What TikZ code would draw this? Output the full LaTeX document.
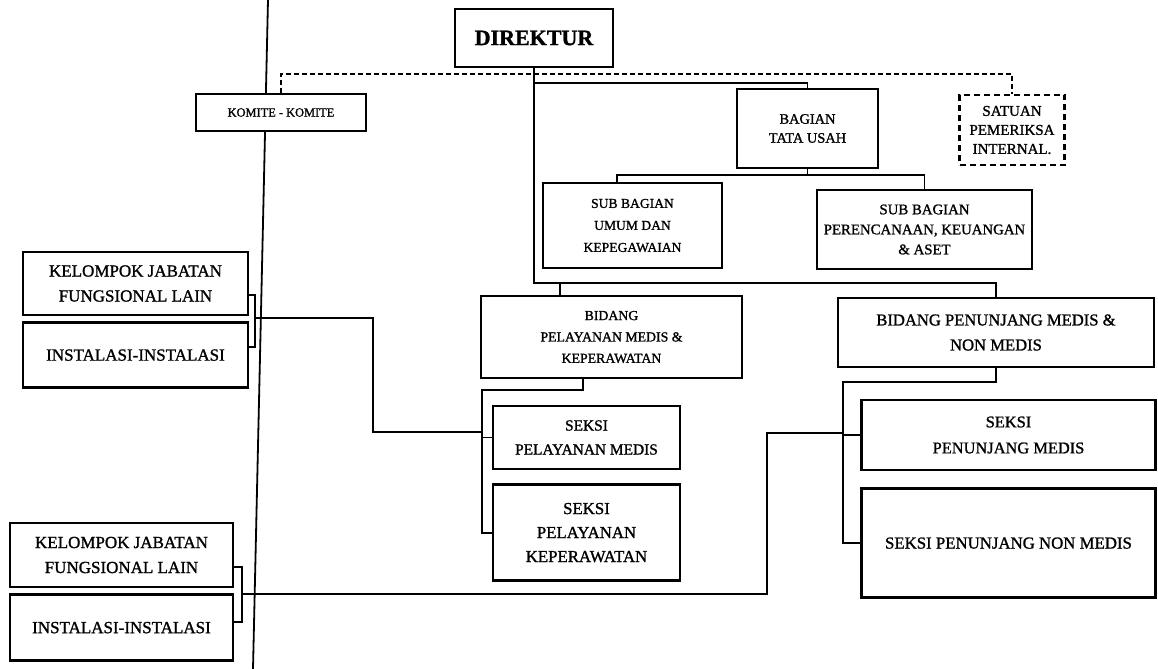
\documentclass[tikz,border=0pt]{standalone}
\usepackage{fontspec}
\setmainfont{Liberation Serif}[FakeBold=1.2]
\usetikzlibrary{positioning}
\tikzstyle{block} = [draw, fill=white, rectangle, line width=1.3pt,
    align=center, inner sep=1pt]
\tikzstyle{dblock} = [block, dash pattern=on 3pt off 2pt]
\tikzstyle{link} = [line width=0.9pt]
\tikzstyle{dlink} = [line width=1.1pt, dash pattern=on 2.5pt off 1.5pt]
\newcommand{\fsz}[2]{\fontsize{#1}{#2}\selectfont}

\begin{document}
\begin{tikzpicture}[x=0.5pt, y=-0.5pt]
    \useasboundingbox (0,0) rectangle (1158,669);
    % margin line of the page
    \draw [link] (268,0) -- (253,669);

    % top
    \node [block, minimum width=79pt, minimum height=29pt, font=\fsz{11}{13}\bfseries] (dir) at (534,38) {DIREKTUR};
    \node [block, minimum width=85pt, minimum height=18.5pt, font=\fsz{6.2}{7}] (komite) at (281,112.5) {KOMITE - KOMITE};
    \node [dblock, minimum width=52.5pt, minimum height=35pt, font=\fsz{7.5}{9.5}] (satuan) at (1012,130) {SATUAN\\PEMERIKSA\\INTERNAL.};
    \node [block, minimum width=70.5pt, minimum height=39.5pt, font=\fsz{7.2}{9.5}] (tu) at (807.5,128.5) {BAGIAN\\TATA USAH};
    \node [block, minimum width=89.5pt, minimum height=42.5pt, font=\fsz{6.8}{11}] (subum) at (632.5,225.5) {SUB BAGIAN\\UMUM DAN\\KEPEGAWAIAN};
    \node [block, minimum width=107.5pt, minimum height=39.5pt, font=\fsz{7.4}{10}] (subpk) at (924.5,229.5) {SUB BAGIAN\\PERENCANAAN, KEUANGAN\\\& ASET};

    % bidang and seksi
    \node [block, minimum width=130.5pt, minimum height=41pt, font=\fsz{6.9}{10.7}] (bpm) at (611.5,337) {BIDANG\\PELAYANAN MEDIS \&\\KEPERAWATAN};
    \node [block, minimum width=158pt, minimum height=34.5pt, font=\fsz{8.3}{12.5}] (bpn) at (996,332.5) {BIDANG PENUNJANG MEDIS \&\\NON MEDIS};
    \node [block, minimum width=93.5pt, minimum height=31.5pt, font=\fsz{7.7}{12}] (spm) at (586.5,437.5) {SEKSI\\PELAYANAN MEDIS};
    \node [block, minimum width=93.5pt, minimum height=48pt, font=\fsz{8.4}{12}, below=6.5pt of spm] (spk) {SEKSI\\PELAYANAN\\KEPERAWATAN};
    \node [block, minimum width=147pt, minimum height=35pt, font=\fsz{8.2}{13}] (spnm) at (1008.5,435) {SEKSI\\PENUNJANG MEDIS};
    \node [block, minimum width=147pt, minimum height=54.5pt, font=\fsz{8.4}{12}, below=8pt of spnm] (spnn) {SEKSI PENUNJANG NON MEDIS};

    % left groups
    \node [block, minimum width=112.5pt, minimum height=31.5pt, font=\fsz{8.5}{12.5}] (kj1) at (135.5,283.5) {KELOMPOK JABATAN\\FUNGSIONAL LAIN};
    \node [block, minimum width=112.5pt, minimum height=32.5pt, font=\fsz{8.5}{12.5}, below=2.5pt of kj1] (ins1) {INSTALASI-INSTALASI};
    \node [block, minimum width=111.5pt, minimum height=32pt, font=\fsz{8.5}{12.5}] (kj2) at (121.5,555) {KELOMPOK JABATAN\\FUNGSIONAL LAIN};
    \node [block, minimum width=111.5pt, minimum height=33pt, font=\fsz{8.5}{12.5}, below=2.5pt of kj2] (ins2) {INSTALASI-INSTALASI};

    % joints
    \coordinate (tujoin) at (534,83);
    \coordinate (subjoin) at (617,175);
    \coordinate (bus) at (534,283);
    \coordinate (bpmtop) at (560,283);
    \coordinate (bpmdrop) at (583,390);
    \coordinate (bpmL) at (482,390);
    \coordinate (bpnL) at (843,382);
    \coordinate (g1t) at (255,295);
    \coordinate (g1b) at (255,347);
    \coordinate (g1) at (255,318);
    \coordinate (spmin) at (482,432);
    \coordinate (g2t) at (242,567);
    \coordinate (g2b) at (242,622);
    \coordinate (g2) at (242,594);
    \coordinate (spnin) at (843,433);

    % dashed lines
    \draw [dlink] (komite.north) -- ++(0,-19) -| (satuan.north);

    % solid lines
    \draw [link] (dir.south) -- (bus) -| (bpn.north);
    \draw [link] (tujoin) -| (tu.north);
    \draw [link] (tu.south) -- (tu.south |- subjoin);
    \draw [link] (subum.north -| subjoin) -- (subjoin) -| (subpk.north);
    \draw [link] (bpmtop) -- (bpmtop |- bpm.north);
    \draw [link] (bpmdrop |- bpm.south) -- (bpmdrop) -- (bpmL) |- (spk.west);
    \draw [link] (bpmL |- spm.west) -- (spm.west);
    \draw [link] (bpn.south) |- (bpnL) |- (spnn.west);
    \draw [link] (bpnL |- spnm.west) -- (spnm.west);

    \draw [link] (g1t -| kj1.east) -- (g1t) -- (g1b) -- (g1b -| ins1.east);
    \draw [link] (g1) -- (373,318) |- (spmin);
    \draw [link] (g2t -| kj2.east) -- (g2t) -- (g2b) -- (g2b -| ins2.east);
    \draw [link] (g2) -- (767,594) |- (spnin);
\end{tikzpicture}
\end{document}
